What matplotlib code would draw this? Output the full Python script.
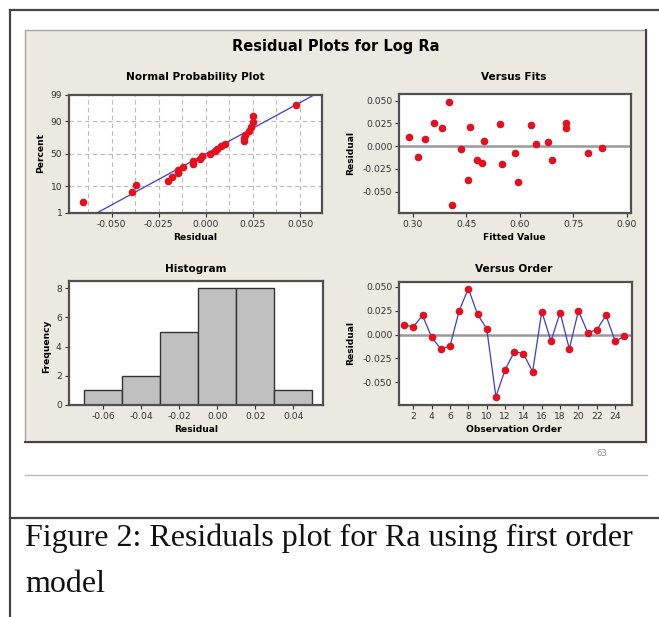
import numpy as np
import matplotlib
matplotlib.use("Agg")
import matplotlib.pyplot as plt
from matplotlib.lines import Line2D
from matplotlib.patches import Rectangle
from statistics import NormalDist

# ---------------- data ----------------
obs_order = list(range(1, 26))
residuals = [0.010, 0.008, 0.020, -0.003, -0.015, -0.012, 0.025, 0.048, 0.021, 0.006,
             -0.065, -0.037, -0.018, -0.020, -0.039, 0.024, -0.007, 0.023, -0.015, 0.025,
             0.002, 0.005, 0.020, -0.007, -0.002]
fitted = [0.290, 0.335, 0.380, 0.435, 0.480, 0.315, 0.360, 0.400, 0.460, 0.500,
          0.410, 0.455, 0.495, 0.550, 0.595, 0.545, 0.585, 0.630, 0.690, 0.730,
          0.645, 0.680, 0.730, 0.790, 0.830]
hist_edges = [-0.07, -0.05, -0.03, -0.01, 0.01, 0.03, 0.05]
pct_ticks = [1, 10, 50, 90, 99]
np_xticks = [-0.050, -0.025, 0.000, 0.025, 0.050]
fit_xticks = [0.30, 0.45, 0.60, 0.75, 0.90]
res_yticks = [0.050, 0.025, 0.000, -0.025, -0.050]
hist_xticks = [-0.06, -0.04, -0.02, 0.00, 0.02, 0.04]
hist_yticks = [0, 2, 4, 6, 8]
order_xticks = list(range(2, 26, 2))

title = "Residual Plots for Log Ra"
caption1 = "Figure 2: Residuals plot for Ra using first order"
caption2 = "model"

# ---------------- figure ----------------
W, H = 659, 617
fig = plt.figure(figsize=(W / 100, H / 100), dpi=100)
fig.patch.set_facecolor("white")
plt.rcParams['font.family'] = ['DejaVu Sans']

def fx(x):
    return x / W

def fy(y):
    return 1 - y / H

def add_ax(l, t, r, b):
    return fig.add_axes([fx(l), fy(b), (r - l) / W, (b - t) / H])

def ftext(x, y, s, **kw):
    return fig.text(fx(x), fy(y), s, **kw)

def fline(x0, y0, x1, y1, **kw):
    fig.add_artist(Line2D([fx(x0), fx(x1)], [fy(y0), fy(y1)], transform=fig.transFigure, **kw))

# page frame
fline(10, 10, 659, 10, color="#444444", lw=1.6)
fline(10, 10, 10, 617, color="#444444", lw=1.6)
# beige panel
fig.add_artist(Rectangle((fx(25), fy(442)), (646 - 25) / W, (442 - 30) / H,
                         transform=fig.transFigure, facecolor="#ECE9E0",
                         edgecolor="#A8A8A0", lw=1.0, zorder=0))
fline(646, 30, 646, 442, color="#444444", lw=1.5)
fline(25, 442, 646, 442, color="#444444", lw=1.5)

ftext(602, 453, "63", fontsize=6, color="#888888", ha="center", va="center")
fline(25, 475, 647, 475, color="#BBBBBB", lw=1.0)
fline(10, 518, 659, 518, color="#444444", lw=1.6)
ftext(25, 546, caption1, fontsize=23, family="Liberation Serif", ha="left",
      va="baseline", color="#111111")
ftext(25, 592, caption2, fontsize=23, family="Liberation Serif", ha="left",
      va="baseline", color="#111111")

ftext(336, 47, title, fontsize=10.5, fontweight="bold", ha="center", va="center")

TICK_FS = 6.6
LAB_FS = 6.6
SUB_FS = 7.6
RED = "#E5101E"
BLUE = "#3B3BD6"
SPINE = "#505050"
MS = 5.5

def style(ax):
    ax.set_facecolor("white")
    for s in ax.spines.values():
        s.set_color(SPINE)
        s.set_linewidth(1.6)
    ax.tick_params(direction="out", length=3, width=0.8, colors="#333333",
                   labelsize=TICK_FS, pad=2)

# ---- Normal probability plot ----
nd = NormalDist()
ax1 = add_ax(69.3, 95, 321.7, 212.7)
style(ax1)
n = len(residuals)
xs = np.sort(np.array(residuals))
zs = np.array([nd.inv_cdf((i + 1 - 0.3) / (n + 0.4)) for i in range(n)])
mu = float(np.mean(residuals))
sd = float(np.std(residuals, ddof=1))
zlo, zhi = nd.inv_cdf(0.01), nd.inv_cdf(0.99)
ax1.set_xlim(-0.0725, 0.0615)
ax1.set_ylim(zlo, zhi)
for gx in np.arange(-0.0625, 0.0615, 0.0125):
    ax1.axvline(gx, color="#BBBBBB", lw=0.8, ls=(0, (4, 3)), zorder=0)
for p in [10, 50, 90]:
    ax1.axhline(nd.inv_cdf(p / 100), color="#BBBBBB", lw=0.8, ls=(0, (4, 3)), zorder=0)
lx = np.array([mu + sd * zlo * 1.2, mu + sd * zhi * 1.2])
ax1.plot(lx, (lx - mu) / sd, color=BLUE, lw=0.9, zorder=2)
ax1.plot(xs, zs, "o", color=RED, ms=MS, mec="none", zorder=3)
ax1.set_xticks(np_xticks)
ax1.set_xticklabels([f"{v:.3f}" for v in np_xticks])
ax1.set_yticks([nd.inv_cdf(p / 100) for p in pct_ticks])
ax1.set_yticklabels([str(p) for p in pct_ticks])
ftext(195, 77, "Normal Probability Plot", fontsize=SUB_FS, fontweight="bold", ha="center", va="center")
ftext(41, 153, "Percent", fontsize=LAB_FS, fontweight="bold", rotation=90, ha="center", va="center")
ftext(195, 237, "Residual", fontsize=LAB_FS, fontweight="bold", ha="center", va="center")

# ---- Versus Fits ----
ax2 = add_ax(399.3, 94.3, 631, 212.7)
style(ax2)
ax2.set_xlim(0.2615, 0.912)
ax2.set_ylim(-0.0731, 0.057)
ax2.axhline(0, color="#999999", lw=1.8, zorder=1)
ax2.plot(fitted, residuals, "o", color=RED, ms=MS, mec="none", zorder=3)
ax2.set_xticks(fit_xticks)
ax2.set_xticklabels([f"{v:.2f}" for v in fit_xticks])
ax2.set_yticks(res_yticks)
ax2.set_yticklabels([f"{v:.3f}" for v in res_yticks])
ftext(514, 77, "Versus Fits", fontsize=SUB_FS, fontweight="bold", ha="center", va="center")
ftext(351, 153, "Residual", fontsize=LAB_FS, fontweight="bold", rotation=90, ha="center", va="center")
ftext(514, 237, "Fitted Value", fontsize=LAB_FS, fontweight="bold", ha="center", va="center")

# ---- Histogram ----
ax3 = add_ax(68.7, 280.7, 322.7, 405)
style(ax3)
ax3.hist(residuals, bins=hist_edges, color="#C0C0C0", edgecolor="#333333", lw=1.0)
ax3.set_xlim(-0.0782, 0.0555)
ax3.set_ylim(0, 8.52)
ax3.set_xticks(hist_xticks)
ax3.set_xticklabels([f"{v:.2f}" for v in hist_xticks])
ax3.set_yticks(hist_yticks)
ftext(196, 269, "Histogram", fontsize=SUB_FS, fontweight="bold", ha="center", va="center")
ftext(47, 346, "Frequency", fontsize=LAB_FS, fontweight="bold", rotation=90, ha="center", va="center")
ftext(196, 430, "Residual", fontsize=LAB_FS, fontweight="bold", ha="center", va="center")

# ---- Versus Order ----
ax4 = add_ax(399.3, 281.7, 631.7, 405)
style(ax4)
ax4.set_xlim(0.47, 25.8)
ax4.set_ylim(-0.0737, 0.0552)
ax4.axhline(0, color="#999999", lw=1.8, zorder=1)
ax4.plot(obs_order, residuals, "-", color=BLUE, lw=0.9, zorder=2)
ax4.plot(obs_order, residuals, "o", color=RED, ms=MS, mec="none", zorder=3)
ax4.set_xticks(order_xticks)
ax4.set_yticks(res_yticks)
ax4.set_yticklabels([f"{v:.3f}" for v in res_yticks])
ftext(514, 269, "Versus Order", fontsize=SUB_FS, fontweight="bold", ha="center", va="center")
ftext(351, 343, "Residual", fontsize=LAB_FS, fontweight="bold", rotation=90, ha="center", va="center")
ftext(514, 430, "Observation Order", fontsize=LAB_FS, fontweight="bold", ha="center", va="center")

fig.savefig("out.png", dpi=100, facecolor="white")
